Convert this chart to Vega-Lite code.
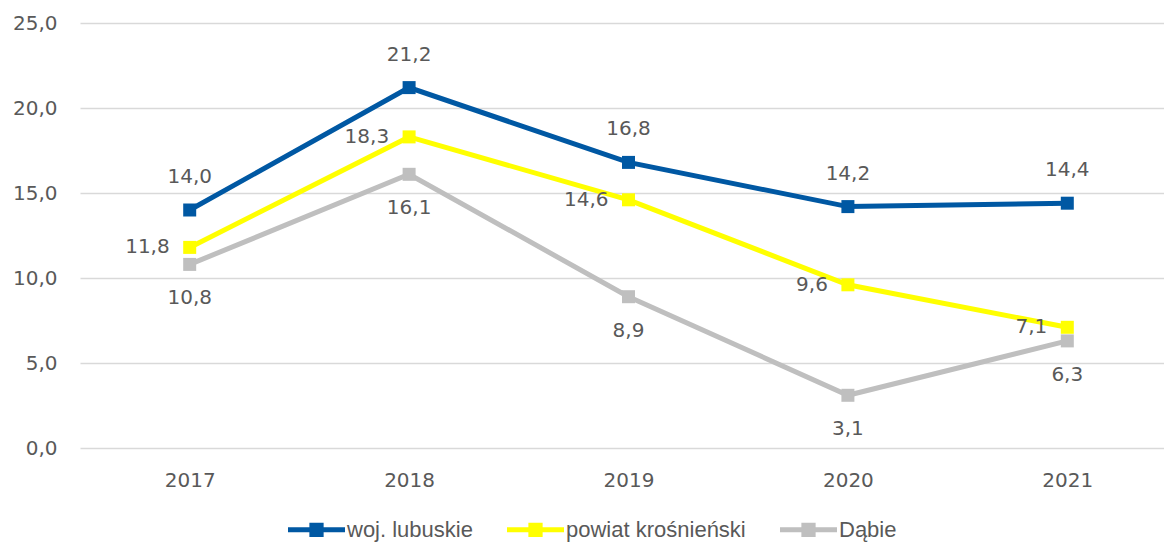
{
  "$schema": "https://vega.github.io/schema/vega-lite/v6.json",
  "width": 1097,
  "height": 425,
  "autosize": {"type": "none"},
  "padding": {"left": 80, "top": 23, "right": 0, "bottom": 95},
  "config": {
    "view": {"stroke": null},
    "locale": {"number": {"decimal": ",", "thousands": " ", "grouping": [3], "currency": ["", " zł"]}},
    "axis": {"labelFont": "DejaVu Sans", "labelFontSize": 20, "labelColor": "#595959", "domain": false, "ticks": false, "title": null},
    "legend": {"symbolFillColor": null, "labelLimit": 400}
  },
  "data": {
    "values": [
      {"series": "woj. lubuskie", "year": "2017", "value": 14.0},
      {"series": "woj. lubuskie", "year": "2018", "value": 21.2},
      {"series": "woj. lubuskie", "year": "2019", "value": 16.8},
      {"series": "woj. lubuskie", "year": "2020", "value": 14.2},
      {"series": "woj. lubuskie", "year": "2021", "value": 14.4},
      {"series": "powiat krośnieński", "year": "2017", "value": 11.8},
      {"series": "powiat krośnieński", "year": "2018", "value": 18.3},
      {"series": "powiat krośnieński", "year": "2019", "value": 14.6},
      {"series": "powiat krośnieński", "year": "2020", "value": 9.6},
      {"series": "powiat krośnieński", "year": "2021", "value": 7.1},
      {"series": "Dąbie", "year": "2017", "value": 10.8},
      {"series": "Dąbie", "year": "2018", "value": 16.1},
      {"series": "Dąbie", "year": "2019", "value": 8.9},
      {"series": "Dąbie", "year": "2020", "value": 3.1},
      {"series": "Dąbie", "year": "2021", "value": 6.3}
    ]
  },
  "encoding": {
    "x": {"field": "year", "type": "ordinal", "scale": {"type": "point", "padding": 0.5},
          "axis": {"labelAngle": 0, "labelPadding": 22, "grid": false}},
    "y": {"field": "value", "type": "quantitative", "scale": {"domain": [0, 25]},
          "axis": {"values": [0, 5, 10, 15, 20, 25], "format": ".1f", "labelPadding": 23, "grid": true, "gridColor": "#d9d9d9", "gridWidth": 1.5}}
  },
  "layer": [
    {
      "mark": {"type": "line", "strokeWidth": 5},
      "encoding": {
        "color": {"field": "series", "type": "nominal",
                  "scale": {"domain": ["woj. lubuskie", "powiat krośnieński", "Dąbie"], "range": ["#0058A3", "#FFFF00", "#BFBFBF"]},
                  "legend": {"title": null, "orient": "none", "direction": "horizontal", "legendX": 208, "legendY": 478,
                             "symbolType": "M-1,-0.09H1V0.09H-1Z M-0.25,-0.25H0.25V0.25H-0.25Z", "symbolSize": 3249, "symbolStrokeWidth": 0,
                             "labelFont": "Liberation Sans", "labelFontSize": 22, "labelColor": "#595959", "labelOffset": 2, "columnPadding": 34, "labelLimit": 400}},
        "order": {"field": "year"}
      }
    },
    {
      "mark": {"type": "point", "shape": "square", "filled": true, "size": 169, "opacity": 1},
      "encoding": {
        "color": {"field": "series", "type": "nominal",
                  "scale": {"domain": ["woj. lubuskie", "powiat krośnieński", "Dąbie"], "range": ["#0058A3", "#FFFF00", "#BFBFBF"]},
                  "legend": {"title": null, "orient": "none", "direction": "horizontal", "legendX": 208, "legendY": 478,
                             "symbolType": "M-1,-0.09H1V0.09H-1Z M-0.25,-0.25H0.25V0.25H-0.25Z", "symbolSize": 3249, "symbolStrokeWidth": 0,
                             "labelFont": "Liberation Sans", "labelFontSize": 22, "labelColor": "#595959", "labelOffset": 2, "columnPadding": 34, "labelLimit": 400}}
      }
    },
    {
      "transform": [{"filter": "datum.series === 'woj. lubuskie'"}],
      "mark": {"type": "text", "font": "DejaVu Sans", "fontSize": 20, "color": "#595959", "dy": -33, "baseline": "middle"},
      "encoding": {"text": {"field": "value", "type": "quantitative", "format": ".1f"}}
    },
    {
      "transform": [{"filter": "datum.series === 'powiat krośnieński'"}],
      "mark": {"type": "text", "font": "DejaVu Sans", "fontSize": 20, "color": "#595959", "dx": -20, "align": "right", "baseline": "middle"},
      "encoding": {"text": {"field": "value", "type": "quantitative", "format": ".1f"}}
    },
    {
      "transform": [{"filter": "datum.series === 'Dąbie'"}],
      "mark": {"type": "text", "font": "DejaVu Sans", "fontSize": 20, "color": "#595959", "dy": 34, "baseline": "middle"},
      "encoding": {"text": {"field": "value", "type": "quantitative", "format": ".1f"}}
    }
  ]
}
